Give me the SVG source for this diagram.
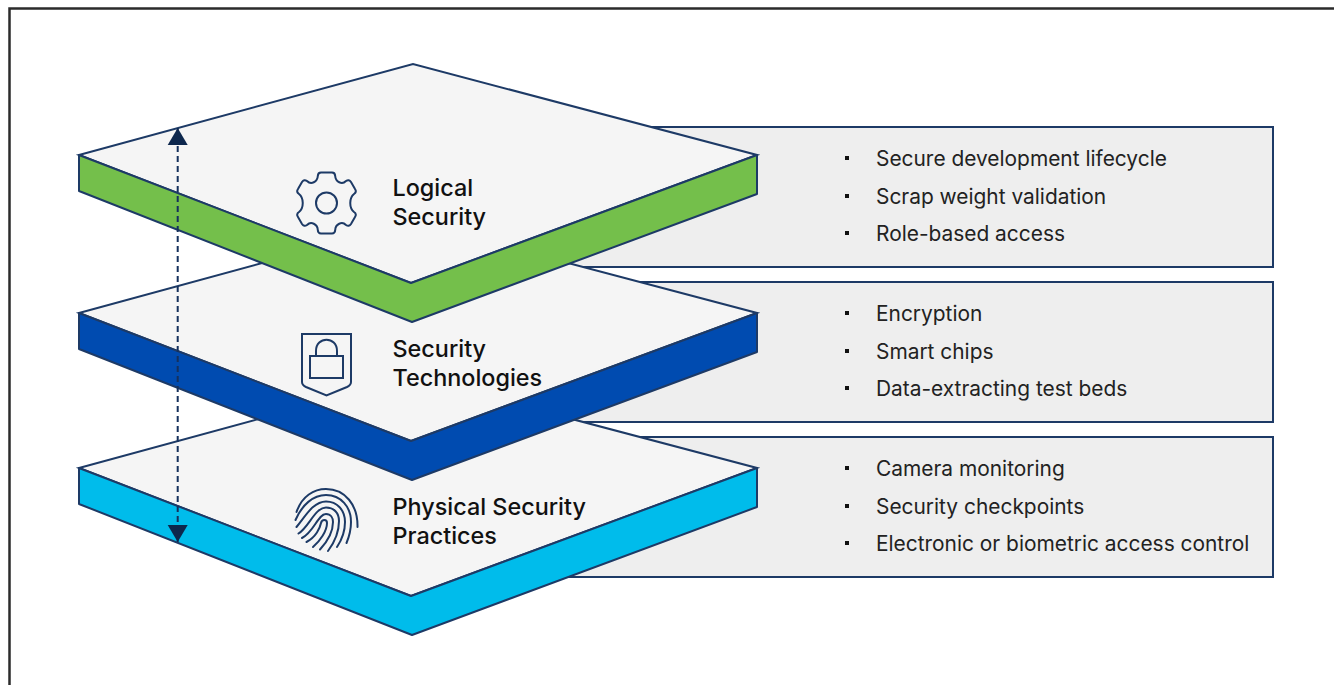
<svg xmlns="http://www.w3.org/2000/svg" width="1334" height="685" viewBox="0 0 1334 685">
<defs>
<marker id="ah" markerWidth="18" markerHeight="22" refX="17" refY="11" orient="auto-start-reverse" markerUnits="userSpaceOnUse"><path d="M0 1 L17 11 L0 21 Z" fill="#0d274d"/></marker>
</defs>
<style>
.frame{fill:none;stroke:#2b2b2b;stroke-width:2.500}
.box{fill:#eeeeee;stroke:#1d3a66;stroke-width:2}
.top{fill:#f5f5f5;stroke:#1d3a66;stroke-width:2;stroke-linejoin:miter}
.side{stroke:#1d3a66;stroke-width:2;stroke-linejoin:round}
.ico{fill:none;stroke:#1d3a66;stroke-width:2}
.t{font-family:Inter,"Liberation Sans",sans-serif;font-size:23.400px;font-weight:500;fill:#111}
.l{font-family:Inter,"Liberation Sans",sans-serif;font-size:20.900px;fill:#222}
.b{fill:#111}
</style>
<rect width="1334" height="685" fill="#fff"/>
<path class="frame" d="M9.500 686V8.500H1335"/>
<g id="box-logical"><rect class="box" x="560" y="127" width="713" height="140"/>
<rect class="b" x="845" y="156" width="4" height="4"/><text class="l" x="876" y="165.500">Secure development lifecycle</text>
<rect class="b" x="845" y="194" width="4" height="4"/><text class="l" x="876" y="203.500">Scrap weight validation</text>
<rect class="b" x="845" y="231" width="4" height="4"/><text class="l" x="876" y="240.500">Role-based access</text></g>
<g id="box-tech"><rect class="box" x="560" y="282" width="713" height="140"/>
<rect class="b" x="845" y="311" width="4" height="4"/><text class="l" x="876" y="320.500">Encryption</text>
<rect class="b" x="845" y="349" width="4" height="4"/><text class="l" x="876" y="358.500">Smart chips</text>
<rect class="b" x="845" y="386" width="4" height="4"/><text class="l" x="876" y="395.500">Data-extracting test beds</text></g>
<g id="box-physical"><rect class="box" x="560" y="437" width="713" height="140"/>
<rect class="b" x="845" y="466" width="4" height="4"/><text class="l" x="876" y="475.500">Camera monitoring</text>
<rect class="b" x="845" y="504" width="4" height="4"/><text class="l" x="876" y="513.500">Security checkpoints</text>
<rect class="b" x="845" y="541" width="4" height="4"/><text class="l" x="876" y="550.500">Electronic or biometric access control</text></g>
<g id="layer-physical">
<path class="top" d="M79 468L413 377L757 468L411 596Z"/>
<path class="side" fill="#00bceb" d="M79 468L411 596L757 468V507L412 635L79 504Z"/>
<g class="ico" stroke-linecap="round"><path d="M296.500 512C302 496 314 489 326 489C345 489 358 505 357.500 527"/><path d="M295.500 520C302 505 313 495 326 495C341 495 351 507 351 522C351 530 349 537 346.500 543"/><path d="M296.500 527C305 517 313 501.500 326 501.500C337 501.500 345 510 345 522C345 533 341 541 337 547"/><path d="M298.500 533.500C309 527 315 507.500 326 507.500C334 507.500 339 513 339 521C339 533 334 543 328 551"/><path d="M302 538C314 532 318 514 326 514C331 514 333 518 333 522C333 533 326 543 320 549.500"/><path d="M306.500 542C316 537 320 528 321 523C322 519 327 519 327 523C327 531 320 541 313 547"/></g>
<text class="t"><tspan x="392.500" y="514.500">Physical Security</tspan><tspan x="392.500" y="543.500">Practices</tspan></text>
</g>
<g id="layer-tech">
<path class="top" d="M79 313L413 222L757 313L411 441Z"/>
<path class="side" fill="#004bb0" d="M79 313L411 441L757 313V352L412 480L79 349Z"/>
<g class="ico"><path d="M302 334H351V382Q351 385 347 387L326.500 395.500L306 387Q302 385 302 382Z"/><rect x="310" y="356" width="33" height="22"/><path d="M316 356V351C316 336 337 336 337 351V356"/></g>
<text class="t"><tspan x="392.500" y="356.500">Security</tspan><tspan x="392.500" y="385.500">Technologies</tspan></text>
</g>
<g id="layer-logical">
<path class="top" d="M79 155L413 64L757 155L411 283Z"/>
<path class="side" fill="#74bf4b" d="M79 155L411 283L757 155V194L412 322L79 191Z"/>
<g class="ico"><circle cx="326.500" cy="203" r="10.500"/><path d="M321 172.500H332Q335 172.500 335.200 176C335.500 182 342 185 346 181Q349 179 351 182L355 189Q357 192 354 194C349 198 349 208 354 212Q357 214 355 217L351 224Q349 227 346 225C342 221 335.500 224 335.200 230Q335 233.500 332 233.500H321Q318 233.500 317.800 230C317.500 224 311 221 307 225Q304 227 302 224L298 217Q296 214 299 212C304 208 304 198 299 194Q296 192 298 189L302 182Q304 179 307 181C311 185 317.500 182 317.800 176Q318 172.500 321 172.500Z"/></g>
<text class="t"><tspan x="392.500" y="195.500">Logical</tspan><tspan x="392.500" y="224.500">Security</tspan></text>
</g>
<g id="connectors"><line x1="177.700" y1="542" x2="177.700" y2="128" stroke="#14305c" stroke-width="2" stroke-dasharray="6 4" marker-start="url(#ah)" marker-end="url(#ah)"/></g>
</svg>
